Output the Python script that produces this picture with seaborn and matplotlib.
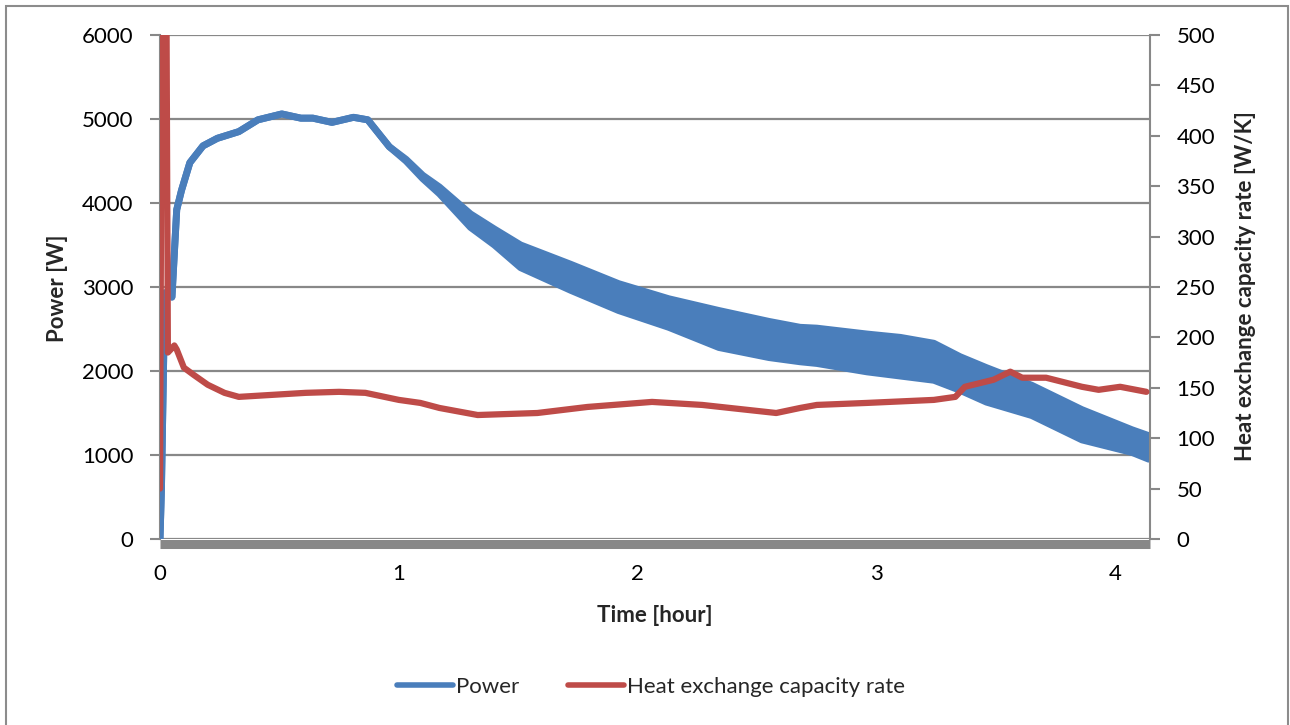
import matplotlib
matplotlib.use("Agg")
import matplotlib.pyplot as plt
from matplotlib.lines import Line2D
from matplotlib.patches import Rectangle
import seaborn as sns
import numpy as np

# ---------------- data ----------------
# Power [W]: upper and lower envelope of the oscillating signal
power_t = [0.0, 0.006, 0.02, 0.05, 0.07, 0.09, 0.125, 0.18, 0.24, 0.33, 0.41,
           0.51, 0.59, 0.64, 0.72, 0.81, 0.87, 0.96, 1.03, 1.10, 1.17, 1.30,
           1.40, 1.51, 1.72, 1.92, 2.13, 2.34, 2.55, 2.68, 2.75, 2.96, 3.10,
           3.24, 3.35, 3.46, 3.65, 3.86, 4.07, 4.14]
power_hi = [0, 600, 2930, 2880, 3920, 4150, 4480, 4680, 4770, 4850, 4990,
            5060, 5010, 5010, 4960, 5020, 4990, 4670, 4520, 4330, 4190, 3870,
            3690, 3500, 3270, 3040, 2860, 2720, 2590, 2520, 2510, 2440, 2400,
            2330, 2170, 2040, 1830, 1540, 1300, 1230]
power_lo = [0, 600, 2930, 2880, 3920, 4150, 4480, 4680, 4770, 4850, 4990,
            5060, 5010, 5010, 4960, 5020, 4990, 4670, 4500, 4290, 4110, 3710,
            3500, 3230, 2960, 2720, 2520, 2280, 2160, 2110, 2090, 1990, 1940,
            1890, 1770, 1630, 1470, 1180, 1030, 950]

# Heat exchange capacity rate [W/K]
hx_t = [0.0, 0.004, 0.008, 0.025, 0.033, 0.045, 0.06, 0.07, 0.10, 0.14, 0.20,
        0.27, 0.33, 0.47, 0.61, 0.75, 0.86, 1.00, 1.09, 1.17, 1.33, 1.58,
        1.79, 2.06, 2.27, 2.58, 2.68, 2.75, 2.96, 3.24, 3.33, 3.37, 3.49,
        3.56, 3.61, 3.71, 3.86, 3.93, 4.02, 4.13]
hx_val = [50, 300, 650, 650, 185, 188, 192, 188, 170, 163, 153,
          145, 141, 143, 145, 146, 145, 138, 135, 130, 123, 125,
          131, 136, 133, 125, 130, 133, 135, 138, 141, 151, 158,
          166, 160, 160, 151, 148, 151, 146]

x_ticks = [0, 1, 2, 3, 4]
left_ticks = [0, 1000, 2000, 3000, 4000, 5000, 6000]
right_ticks = [0, 50, 100, 150, 200, 250, 300, 350, 400, 450, 500]

series_names = ["Power", "Heat exchange capacity rate"]

# ---------------- styling ----------------
sns.set_theme(style="white")
plt.rcParams["font.family"] = ["Lato", "DejaVu Sans"]

BLUE = "#4A7EBB"
RED = "#BE4B48"
GRID = "#888888"
FS = 16

W, H = 1290, 725
fig = plt.figure(figsize=(W / 100, H / 100), dpi=100)
fig.patch.set_facecolor("white")

ax = fig.add_axes([160 / W, 1 - 539 / H, 990 / W, 504 / H])
ax2 = ax.twinx()

# Power band
ax.fill_between(power_t, power_lo, power_hi, color=BLUE, lw=0, zorder=3)
sns.lineplot(x=power_t, y=power_hi, ax=ax, color=BLUE, lw=5, estimator=None,
             sort=False, solid_capstyle="round", solid_joinstyle="round", zorder=3)
sns.lineplot(x=power_t, y=power_lo, ax=ax, color=BLUE, lw=5, estimator=None,
             sort=False, solid_capstyle="round", solid_joinstyle="round", zorder=3)

# Heat exchange capacity rate
sns.lineplot(x=hx_t, y=hx_val, ax=ax2, color=RED, lw=4.5, estimator=None,
             sort=False, solid_capstyle="round", solid_joinstyle="round", zorder=3)

# axes limits and ticks
ax.set_xlim(0, 4.145)
ax.set_ylim(0, 6000)
ax2.set_ylim(0, 500)
ax.set_xticks(x_ticks)
ax.set_xticklabels([str(v) for v in x_ticks])
ax.set_yticks(left_ticks)
ax.set_yticklabels([str(v) for v in left_ticks])
ax2.set_yticks(right_ticks)
ax2.set_yticklabels([str(v) for v in right_ticks])

ax.grid(axis="y", color=GRID, lw=1.6, zorder=0)
ax.grid(axis="x", visible=False)
ax.set_axisbelow(True)

for s in ["top", "right"]:
    ax.spines[s].set_visible(False)
ax.spines["left"].set_color(GRID)
ax.spines["left"].set_linewidth(1.5)
ax.spines["bottom"].set_color(GRID)
ax.spines["bottom"].set_linewidth(6.5)
ax.spines["bottom"].set_capstyle("butt")
ax.spines["bottom"].set_position(("outward", 3.3))
ax.spines["bottom"].set_zorder(1)

for s in ["top", "left", "bottom"]:
    ax2.spines[s].set_visible(False)
ax2.spines["right"].set_color(GRID)
ax2.spines["right"].set_linewidth(1.5)

ax.tick_params(axis="y", which="major", left=True, direction="out", length=7,
               width=1.5, color=GRID, pad=12, labelsize=FS, labelcolor="black")
ax.tick_params(axis="x", which="major", bottom=True, length=0, pad=15,
               labelsize=FS, labelcolor="black")
ax2.tick_params(axis="y", which="major", right=True, direction="out", length=7,
                width=1.5, color=GRID, pad=12, labelsize=FS, labelcolor="black")

ax.set_xlabel("")
ax.set_ylabel("")
ax2.set_ylabel("")

fig.text(58 / W, 1 - 288 / H, "Power [W]", rotation=90, ha="center",
         va="center", fontsize=FS, fontweight="bold")
fig.text(655 / W, 1 - 615 / H, "Time [hour]", ha="center", va="center",
         fontsize=FS, fontweight="bold")
fig.text(1245 / W, 1 - 286 / H, "Heat exchange capacity rate [W/K]",
         rotation=90, ha="center", va="center", fontsize=FS, fontweight="bold")

handles = [Line2D([], [], color=BLUE, lw=4, solid_capstyle="round"),
           Line2D([], [], color=RED, lw=4, solid_capstyle="round")]
fig.legend(handles, series_names, loc="center",
           bbox_to_anchor=(651 / W, 1 - 687 / H), ncol=2, frameon=False,
           fontsize=FS, handlelength=2.5, handletextpad=0.15,
           columnspacing=2.2)

# chart border
fig.add_artist(Rectangle((6 / W, -0.01), (1288 - 6) / W, 1.01 - 6 / H,
                         transform=fig.transFigure, fill=False,
                         edgecolor="#8C8C8C", lw=1.5))

fig.savefig("out.png", dpi=100)
